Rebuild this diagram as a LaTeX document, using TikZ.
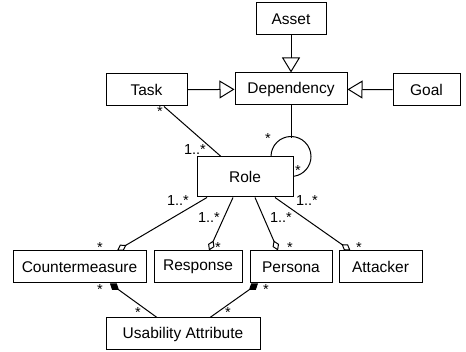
\documentclass[tikz,border=0pt]{standalone}
\usepackage{fontspec}
\setmainfont{Liberation Sans}
\usepackage{tikz}
\usetikzlibrary{arrows.meta, positioning}

\begin{document}
\begin{tikzpicture}[
            x=1pt, y=-1pt, line width=1pt,
            cls/.style={draw, minimum height=32pt, inner sep=0pt, font=\fontsize{15.5}{18}\selectfont},
            mult/.style={inner sep=0pt, font=\fontsize{14.5}{16}\selectfont},
            gen/.style={-{Triangle[open, length=15pt, width=18pt]}},
            agg/.style={-{Diamond[open, length=11pt, width=7pt]}},
            comp/.style={-{Diamond[length=11pt, width=8pt]}},
        ]
        \useasboundingbox (0,0) rectangle (466,352);
        \node (asset) at (291,19) [cls, minimum width=70pt] {Asset};
        \node (dep) at (291,89) [cls, minimum width=112pt] {Dependency};
        \node (task) at (146.5,90) [cls, minimum width=81pt] {Task};
        \node (goal) at (426.5,90) [cls, minimum width=67pt] {Goal};
        \node (role) at (245,177) [cls, minimum width=96pt, minimum height=40pt] {Role};
        \node (cm) at (79.5,267) [cls, minimum width=133pt] {Countermeasure};
        \node (resp) at (198,267) [cls, minimum width=88pt] {Response};
        \node (pers) at (291,267) [cls, minimum width=82pt] {Persona};
        \node (att) at (380.5,267) [cls, minimum width=83pt] {Attacker};
        \node (ua) at (183,334) [cls, minimum width=154pt] {Usability Attribute};
        \coordinate (looptop) at (291,138);

        \draw[gen] (asset) -- (dep);
        \draw[gen] (task) -- (dep);
        \draw[gen] (goal) -- (dep);
        \draw ([xshift=17.5pt]task.south) -- ([xshift=-24pt]role.north);
        \draw (dep) -- (looptop);
        \draw ([xshift=26pt]role.north) arc[start angle=180, end angle=-81, radius=20pt];
        \draw[agg] ([xshift=-38pt]role.south) -- ([xshift=37.5pt]cm.north);
        \draw[agg] ([xshift=-12pt]role.south) -- ([xshift=11pt]resp.north);
        \draw[agg] ([xshift=10pt]role.south) -- ([xshift=-13pt]pers.north);
        \draw[agg] ([xshift=30pt]role.south) -- ([xshift=-30pt]att.north);
        \draw[comp] ([xshift=-26pt]ua.north) -- ([xshift=30.5pt]cm.south);
        \draw[comp] ([xshift=27pt]ua.north) -- ([xshift=-33pt]pers.south);

        \node (m1) at (195,150) [mult] {1..*};
        \node (m2) at (160,112) [mult] {*};
        \node (m3) at (268,139) [mult] {*};
        \node (m4) at (298,171) [mult] {*};
        \node (m5) at (178,201) [mult] {1..*};
        \node (m6) at (209,218) [mult] {1..*};
        \node (m7) at (281,218) [mult] {1..*};
        \node (m8) at (307,201) [mult] {1..*};
        \node (m9) at (100,248) [mult] {*};
        \node (m10) at (218,248) [mult] {*};
        \node (m11) at (290,248) [mult] {*};
        \node (m12) at (359,248) [mult] {*};
        \node (m13) at (100,290) [mult] {*};
        \node (m14) at (138,313) [mult] {*};
        \node (m15) at (228,313) [mult] {*};
        \node (m16) at (266,290) [mult] {*};
        \end{tikzpicture}
\end{document}
